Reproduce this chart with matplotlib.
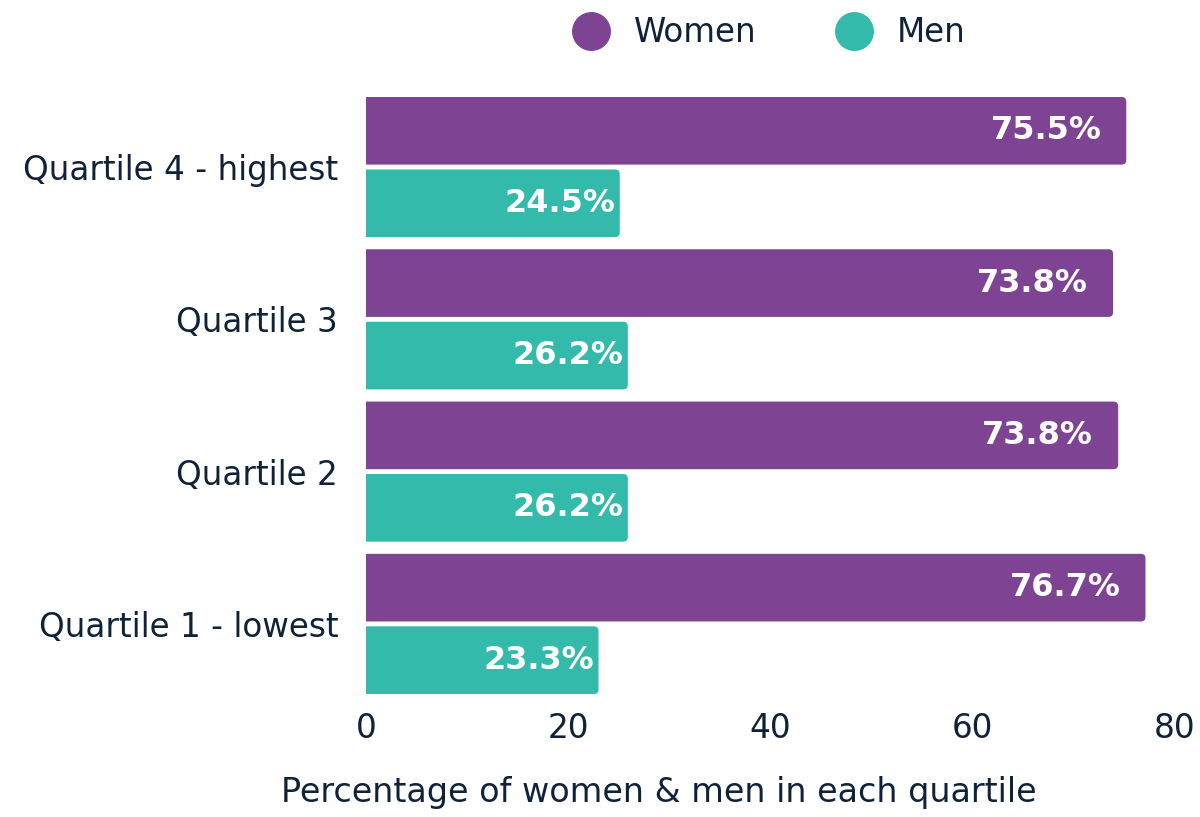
import matplotlib
matplotlib.use("Agg")
import matplotlib.pyplot as plt
from matplotlib.patches import FancyBboxPatch
from matplotlib.lines import Line2D

categories = ["Quartile 1 - lowest", "Quartile 2", "Quartile 3", "Quartile 4 - highest"]
# bar lengths as drawn in the picture
women = [77.1, 74.4, 73.9, 75.2]
men = [23.0, 25.9, 25.9, 25.1]
# printed labels
women_labels = ["76.7%", "73.8%", "73.8%", "75.5%"]
men_labels = ["23.3%", "26.2%", "26.2%", "24.5%"]
xticks = [0, 20, 40, 60, 80]

PURPLE = "#7E4493"
TEAL = "#33BAAA"
TEXT = "#0F2238"

plt.rcParams['font.family'] = ['DejaVu Sans']

fig = plt.figure(figsize=(12, 8.17), dpi=100)
ax = fig.add_axes([0.305, 0.1506, 0.674, 0.7307])

off = 0.238
h = 0.444
ys = list(range(len(categories)))

def rounded_barh(y, w, color):
    bars = ax.barh(y, w, height=h, color=color)
    for b in bars:
        x0, y0 = b.get_x(), b.get_y()
        bw, bh = b.get_width(), b.get_height()
        b.set_visible(False)
        p = FancyBboxPatch((x0 - 1.0, y0), bw + 1.0, bh,
                           boxstyle="round,pad=0,rounding_size=0.45",
                           mutation_aspect=0.0664,
                           facecolor=color, edgecolor="none")
        ax.add_patch(p)
    return bars

rounded_barh([y + off for y in ys], women, PURPLE)
rounded_barh([y - off for y in ys], men, TEAL)

for y, v, lab in zip(ys, women, women_labels):
    ax.annotate(lab, (v, y + off), xytext=(-18, 0), textcoords="offset points",
                ha="right", va="center", color="white", fontsize=23, fontweight="bold")
for y, v, lab in zip(ys, men, men_labels):
    ax.annotate(lab, (v, y - off), xytext=(-3, 0), textcoords="offset points",
                ha="right", va="center", color="white", fontsize=23, fontweight="bold")

ax.set_xlim(0, 80)
ax.set_ylim(-0.46, 3.46)
ax.set_yticks(ys)
ax.set_yticklabels(categories)
ax.set_xticks(xticks)
ax.set_xticklabels([str(t) for t in xticks])
ax.tick_params(axis="both", length=0, labelsize=23.5, colors=TEXT)
ax.tick_params(axis="y", pad=20)
ax.tick_params(axis="x", pad=13)
for s in ax.spines.values():
    s.set_visible(False)
ax.set_xlabel("Percentage of women & men in each quartile", fontsize=24,
              color=TEXT, labelpad=22, x=0.3616)

handles = [Line2D([], [], marker="o", linestyle="none", markersize=27, color=PURPLE),
           Line2D([], [], marker="o", linestyle="none", markersize=27, color=TEAL)]
fig.legend(handles, ["Women", "Men"], loc="center", bbox_to_anchor=(0.635, 0.96),
           ncol=2, frameon=False, fontsize=23.5, labelcolor=TEXT,
           handletextpad=0.3, columnspacing=2.0)

fig.savefig("out.png", dpi=100)
